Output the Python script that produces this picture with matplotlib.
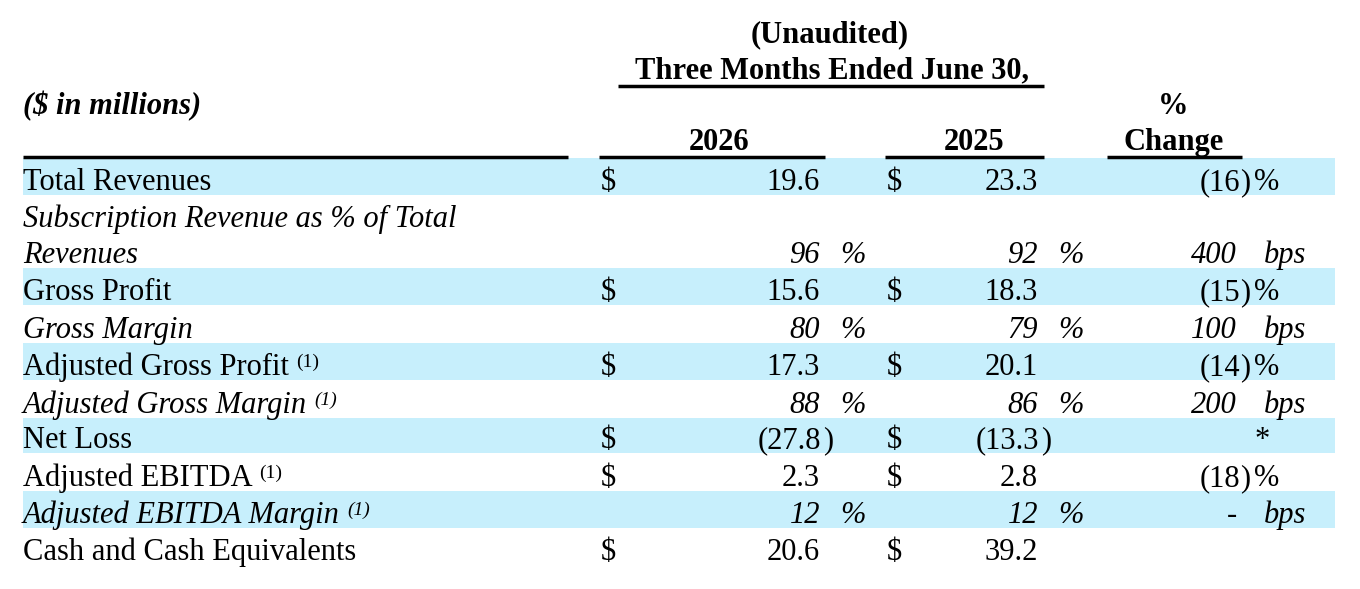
import matplotlib
matplotlib.use("Agg")
import matplotlib.pyplot as plt
from matplotlib.patches import Rectangle

plt.rcParams['font.family'] = ['Liberation Serif', 'DejaVu Serif']

# table data
labels = ["Total Revenues",
          "Subscription Revenue as % of Total\nRevenues",
          "Gross Profit",
          "Gross Margin",
          "Adjusted Gross Profit",
          "Adjusted Gross Margin",
          "Net Loss",
          "Adjusted EBITDA",
          "Adjusted EBITDA Margin",
          "Cash and Cash Equivalents"]
is_italic = [False, True, False, True, False, True, False, False, True, False]
has_note = [False, False, False, False, True, True, False, True, True, False]
kind = ['usd', 'pct', 'usd', 'pct', 'usd', 'pct', 'usd', 'usd', 'pct', 'usd']
vals_2026 = [19.6, 96, 15.6, 80, 17.3, 88, -27.8, 2.3, 12, 20.6]
vals_2025 = [23.3, 92, 18.3, 79, 20.1, 86, -13.3, 2.8, 12, 39.2]
change = [-16, 400, -15, 100, -14, 200, '*', -18, 0, None]
change_unit = ['%', 'bps', '%', 'bps', '%', 'bps', '', '%', 'bps', '']
shaded = [True, False, True, False, True, False, True, False, True, False]

# row geometry (pixels, top-down)
row_top = [158, 195, 268, 305, 343, 380, 418, 453, 491, 528]
row_bot = [195, 268, 305, 343, 380, 418, 453, 491, 528, 565]

band = '#c7effc'
fs = 22

fig = plt.figure(figsize=(13.6, 5.89), dpi=100)
ax = fig.add_axes([0, 0, 1, 1])
ax.set_xlim(0, 1360)
ax.set_ylim(589, 0)
ax.axis('off')

# header
ax.text(830, 42, "(Unaudited)", ha='center', va='baseline', fontsize=fs, fontweight='bold')
ax.text(832, 78, "Three Months Ended June 30,", ha='center', va='baseline', fontsize=fs, fontweight='bold')
ax.plot([618, 1044], [86, 86], color='black', lw=2.5, solid_capstyle='butt')
ax.text(23, 114, "($ in millions)", ha='left', va='baseline', fontsize=fs,
        fontweight='bold', fontstyle='italic')
ax.text(1173, 114, "%", ha='center', va='baseline', fontsize=fs, fontweight='bold')
ax.text(719, 150, "2026", ha='center', va='baseline', fontsize=fs, fontweight='bold')
ax.text(974, 150, "2025", ha='center', va='baseline', fontsize=fs, fontweight='bold')
ax.text(1174, 150, "Change", ha='center', va='baseline', fontsize=fs, fontweight='bold')

for x0, x1 in [(23, 568), (599, 825), (885, 1044), (1107, 1242)]:
    ax.plot([x0, x1], [157, 157], color='black', lw=2.5, solid_capstyle='butt')

# body
for i, lab in enumerate(labels):
    top, bot = row_top[i], row_bot[i]
    base = bot - 5
    if shaded[i]:
        ax.add_patch(Rectangle((23, top), 1335 - 23, bot - top, color=band, lw=0, zorder=0))
    style = 'italic' if is_italic[i] else 'normal'
    lines = lab.split("\n")
    for k, ln in enumerate(lines):
        y = base - (len(lines) - 1 - k) * 36
        t = ax.text(23, y, ln, ha='left', va='baseline', fontsize=fs, fontstyle=style)
    if has_note[i]:
        ax.annotate("(1)", xy=(1, 1), xycoords=t, xytext=(5, -1), textcoords='offset points',
                    ha='left', va='top', fontsize=14, fontstyle=style)

    for v, xd, xr, xp in [(vals_2026[i], 601, 820, 840), (vals_2025[i], 887, 1038, 1058)]:
        if kind[i] == 'usd':
            ax.text(xd, base, "$", ha='left', va='baseline', fontsize=fs)
            if v < 0:
                ax.text(xr + 1, base, "(%.1f" % abs(v), ha='right', va='baseline', fontsize=fs)
                ax.text(xr + 3, base, ")", ha='left', va='baseline', fontsize=fs)
            else:
                ax.text(xr, base, "%.1f" % v, ha='right', va='baseline', fontsize=fs)
        else:
            ax.text(xr, base, "%d" % v, ha='right', va='baseline', fontsize=fs, fontstyle='italic')
            ax.text(xp, base, "%", ha='left', va='baseline', fontsize=fs, fontstyle='italic')

    c = change[i]
    if c is None:
        continue
    if c == '*':
        ax.text(1262, base, "*", ha='center', va='baseline', fontsize=fs)
    elif change_unit[i] == '%':
        ax.text(1240, base, "(%d" % abs(c), ha='right', va='baseline', fontsize=fs)
        ax.text(1240, base, ")", ha='left', va='baseline', fontsize=fs)
        ax.text(1254, base, "%", ha='left', va='baseline', fontsize=fs)
    else:
        txt = "-" if c == 0 else "%d" % c
        ax.text(1237, base, txt, ha='right', va='baseline', fontsize=fs, fontstyle='italic')
        ax.text(1264, base, "bps", ha='left', va='baseline', fontsize=fs, fontstyle='italic')

fig.savefig("out.png", dpi=100)
